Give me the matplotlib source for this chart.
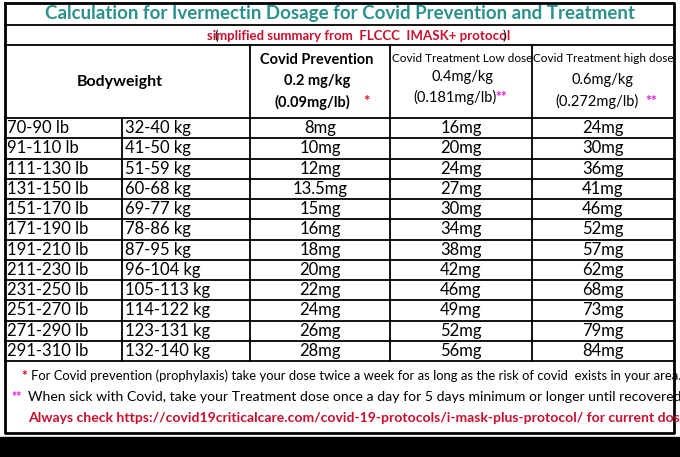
import matplotlib
matplotlib.use("Agg")
import matplotlib.pyplot as plt

lb_ranges = ["70-90 lb", "91-110 lb", "111-130 lb", "131-150 lb", "151-170 lb", "171-190 lb",
             "191-210 lb", "211-230 lb", "231-250 lb", "251-270 lb", "271-290 lb", "291-310 lb"]
kg_ranges = ["32-40 kg", "41-50 kg", "51-59 kg", "60-68 kg", "69-77 kg", "78-86 kg",
             "87-95 kg", "96-104 kg", "105-113 kg", "114-122 kg", "123-131 kg", "132-140 kg"]
prevention = ["8mg", "10mg", "12mg", "13.5mg", "15mg", "16mg", "18mg", "20mg", "22mg", "24mg", "26mg", "28mg"]
treat_low = ["16mg", "20mg", "24mg", "27mg", "30mg", "34mg", "38mg", "42mg", "46mg", "49mg", "52mg", "56mg"]
treat_high = ["24mg", "30mg", "36mg", "41mg", "46mg", "52mg", "57mg", "62mg", "68mg", "73mg", "79mg", "84mg"]

FONT = "Lato"
W, H = 680, 457
fig = plt.figure(figsize=(W / 100, H / 100), dpi=100)
ax = fig.add_axes([0, 0, 1, 1])
ax.set_xlim(0, W)
ax.set_ylim(H, 0)
ax.axis("off")

# black band at bottom
ax.fill_between([0, W], 437, H, color="black")

cols = [5, 122, 250, 390, 532, 674]
top, t1, t2, hdr, body_end, bottom = 3, 25, 45, 118, 361, 433
nrows = len(lb_ranges)
rh = (body_end - hdr) / nrows

lw = 1.3
ax.plot([5, 674, 674, 5, 5], [top, top, bottom, bottom, top], color="black", lw=2)
for y in [t1, t2, hdr, body_end]:
    ax.plot([5, 674], [y, y], color="black", lw=lw)
for i in range(1, nrows):
    y = hdr + i * rh
    ax.plot([5, 674], [y, y], color="black", lw=lw)
for x in cols[2:5]:
    ax.plot([x, x], [t2, body_end], color="black", lw=lw)
ax.plot([cols[1], cols[1]], [hdr, body_end], color="black", lw=lw)

ax.text(340, 14, "Calculation for Ivermectin Dosage for Covid Prevention and Treatment",
        ha="center", va="center", fontsize=13.5, fontweight="bold", color="#2b918b", family=FONT)
ax.text(216, 35.5, "(", ha="center", va="center", fontsize=9.5, color="black", family=FONT)
ax.text(359, 35.5, "simplified summary from  FLCCC  IMASK+ protocol", ha="center", va="center",
        fontsize=9.5, fontweight="bold", color="#c8102e", family=FONT)
ax.text(504, 35.5, ")", ha="center", va="center", fontsize=9.5, color="black", family=FONT)

ax.text(120, 82, "Bodyweight", ha="center", va="center", fontsize=11.5, fontweight="bold", family=FONT)
ax.text(317, 60, "Covid Prevention", ha="center", va="center", fontsize=10.5, fontweight="bold", family=FONT)
ax.text(317, 81, "0.2 mg/kg", ha="center", va="center", fontsize=10.5, fontweight="bold", family=FONT)
ax.text(312, 102, "(0.09mg/lb)", ha="center", va="center", fontsize=10.5, fontweight="bold", family=FONT)
ax.text(366, 102, "*", ha="center", va="center", fontsize=11, color="#d01020", fontweight="bold", family=FONT)

ax.text(462, 58, "Covid Treatment Low dose", ha="center", va="center", fontsize=8.5, family=FONT)
ax.text(462, 77, "0.4mg/kg", ha="center", va="center", fontsize=10.5, family=FONT)
ax.text(455, 97, "(0.181mg/lb)", ha="center", va="center", fontsize=10.5, family=FONT)
ax.text(501, 97, "**", ha="center", va="center", fontsize=10, color="#e020d0", fontweight="bold", family=FONT)

ax.text(603, 59, "Covid Treatment high dose", ha="center", va="center", fontsize=8.5, family=FONT)
ax.text(603, 80, "0.6mg/kg", ha="center", va="center", fontsize=10.5, family=FONT)
ax.text(597, 101, "(0.272mg/lb)", ha="center", va="center", fontsize=10.5, family=FONT)
ax.text(651, 101, "**", ha="center", va="center", fontsize=10, color="#e020d0", fontweight="bold", family=FONT)

for i in range(nrows):
    y = hdr + (i + 0.5) * rh
    ax.text(7, y, lb_ranges[i], ha="left", va="center", fontsize=12, family=FONT)
    ax.text(125, y, kg_ranges[i], ha="left", va="center", fontsize=12, family=FONT)
    ax.text(320, y, prevention[i], ha="center", va="center", fontsize=12, family=FONT)
    ax.text(461, y, treat_low[i], ha="center", va="center", fontsize=12, family=FONT)
    ax.text(603, y, treat_high[i], ha="center", va="center", fontsize=12, family=FONT)

ax.text(24, 376, "*", ha="center", va="center", fontsize=10, color="#d01020", fontweight="bold", family=FONT)
ax.text(31, 376, "For Covid prevention (prophylaxis) take your dose twice a week for as long as the risk of covid  exists in your area.",
        ha="left", va="center", fontsize=9.4, family=FONT)
ax.text(17, 397, "**", ha="center", va="center", fontsize=9, color="#e020d0", fontweight="bold", family=FONT)
ax.text(28, 397, "When sick with Covid, take your Treatment dose once a day for 5 days minimum or longer until recovered.",
        ha="left", va="center", fontsize=10.1, family=FONT)
ax.text(28, 418, "Always check https://covid19criticalcare.com/covid-19-protocols/i-mask-plus-protocol/ for current dosage.",
        ha="left", va="center", fontsize=10.1, fontweight="bold", color="#c8102e", family=FONT)

fig.savefig("out.png", dpi=100)
